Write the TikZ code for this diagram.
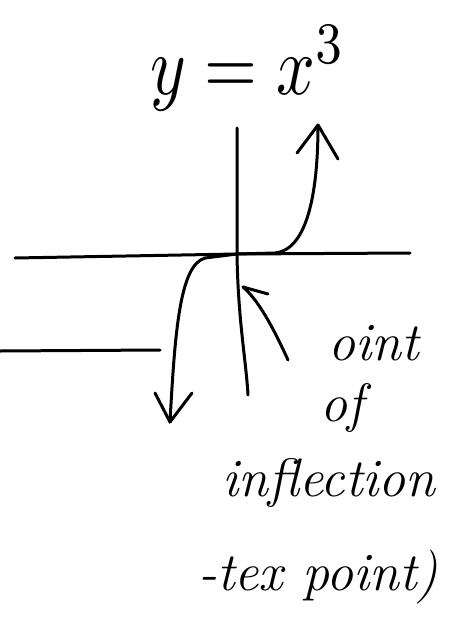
\documentclass[tikz,border=0pt]{standalone}
\usetikzlibrary{arrows.meta}
\begin{document}
\begin{tikzpicture}[x=1pt,y=-1pt,
  ink/.style={line width=3pt,line cap=round,line join=round,black},
  hand/.style={font=\fontsize{54}{58}\selectfont\itshape,inner sep=0pt,anchor=west}]
\useasboundingbox (0,0) rectangle (465,624);
% title
\node[inner sep=0pt,anchor=base] (title) at (248,94) {\scalebox{6.8}[8.4]{$y=x^{3}$}};
% axes
\coordinate (o) at (237,254);
\coordinate (ytop) at (237,128);
\coordinate (ybot) at (248,395);
\coordinate (xl) at (15,258);
\coordinate (xr) at (410,253);
\draw[ink] (ytop) -- (o) .. controls (238,320) and (246,360) .. (ybot);
\draw[ink] (xl) -- (o) -- (xr);
% curve
\coordinate (rtop) at (318,125);
\coordinate (lbot) at (170,422);
\draw[ink] (o) -- (275,253) .. controls (305,250) and (318,200) .. (rtop);
\draw[ink] (o) -- (205,258) .. controls (180,265) and (175,330) .. (lbot);
% arrowheads of curve
\draw[ink] (297,153) -- (rtop) -- (338,159);
\draw[ink] (155,393) -- (lbot) -- (192,393);
% pointer arrow
\coordinate (ps) at (288,360);
\coordinate (pe) at (243,287);
\draw[ink] (ps) .. controls (272,325) and (258,300) .. (pe);
\draw[ink] (pe) -- (268,294);
% left line
\coordinate (ll) at (0,351);
\coordinate (lr) at (160,350);
\draw[ink] (ll) -- (lr);
% labels
\node[hand] (l1) at (328,343) {oint};
\node[hand] (l2) at (320,408) {of};
\node[hand] (l3) at (222,483) {inflection};
\node[hand] (l4) at (198,577) {-tex point)};
\end{tikzpicture}
\end{document}
